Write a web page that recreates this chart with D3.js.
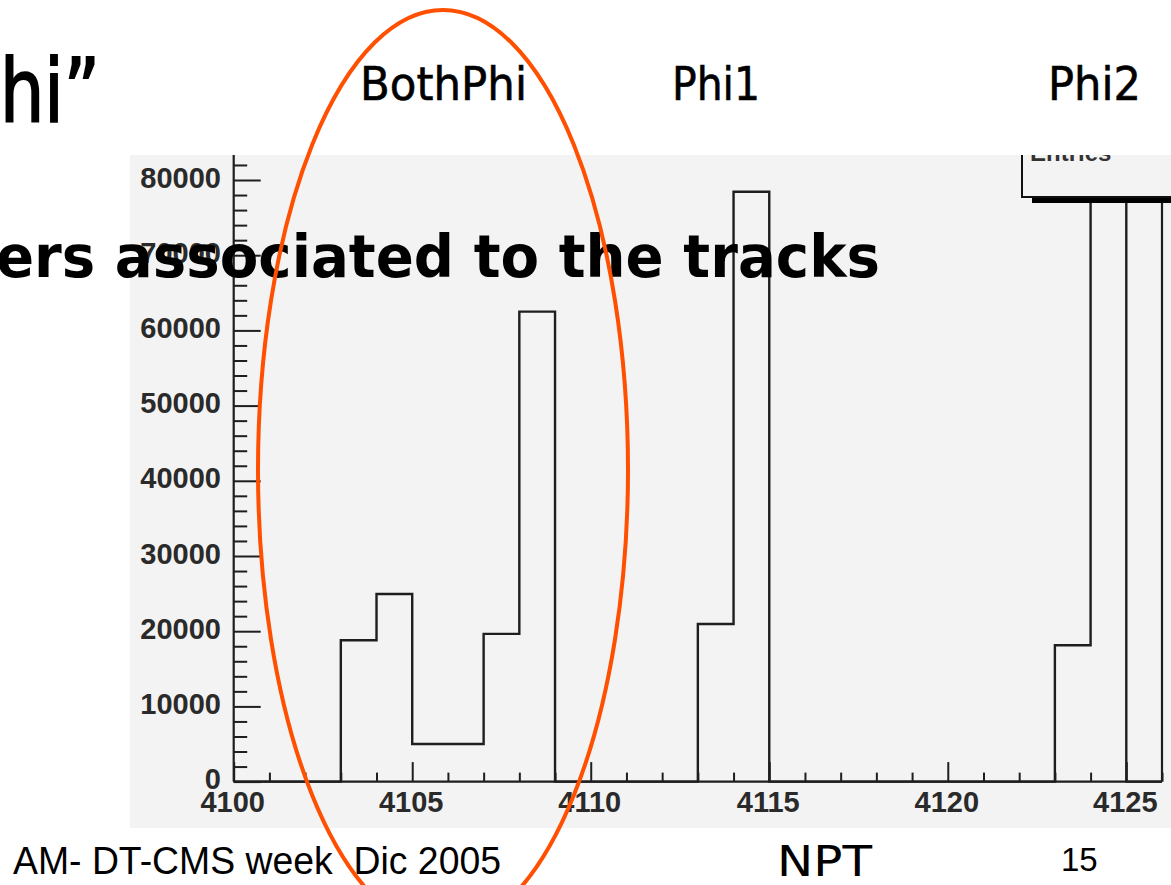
<!DOCTYPE html>
<html>
<head>
<meta charset="utf-8">
<script src="https://cdn.jsdelivr.net/npm/d3@7/dist/d3.min.js"></script>
<style>
  html, body { margin: 0; padding: 0; background: #ffffff; }
  svg { display: block; }
  text { white-space: pre; }
</style>
</head>
<body>
<script>
// ---- data ----
const binLow = 4100, binHigh = 4126;            // histogram range, bin width 1
const filledBins = [4103, 4104, 4105, 4106, 4107, 4108, 4113, 4114, 4123, 4124];
const binCounts  = [18800, 24950, 5000, 5000, 19640, 62500, 20960, 78440, 18130, 150000];
const yMajorTicks = [0, 10000, 20000, 30000, 40000, 50000, 60000, 70000, 80000];
const xMajorTicks = [4100, 4105, 4110, 4115, 4120, 4125];
const groupLabels = ["BothPhi", "Phi1", "Phi2"];

const W = 1171, H = 885;
const svg = d3.select("body").append("svg").attr("width", W).attr("height", H);

// pad background
svg.append("rect").attr("x", 130).attr("y", 155).attr("width", W - 130).attr("height", 828 - 155)
  .attr("fill", "#f3f3f3");

const x = d3.scaleLinear().domain([binLow, binHigh]).range([233.7, 1162]);
const y = d3.scaleLinear().domain([0, 80000]).range([781.6, 180]);

const defs = svg.append("defs");
defs.append("clipPath").attr("id", "plotclip")
  .append("rect").attr("x", 0).attr("y", 155).attr("width", W).attr("height", 700);

// full histogram
const counts = d3.range(binLow, binHigh).map(b => {
  const i = filledBins.indexOf(b);
  return i >= 0 ? binCounts[i] : 0;
});
const pts = [[binLow, 0]];
counts.forEach((c, i) => { pts.push([binLow + i, c]); pts.push([binLow + i + 1, c]); });
pts.push([binHigh, 0]);

const axisColor = "#1e1e1e";
const line = d3.line().x(d => x(d[0])).y(d => y(d[1]));
svg.append("path").attr("d", line(pts)).attr("fill", "none")
  .attr("stroke", axisColor).attr("stroke-width", 2.4)
  .attr("clip-path", "url(#plotclip)");

// frame right edge
svg.append("line").attr("x1", x(binHigh)).attr("x2", x(binHigh)).attr("y1", 155).attr("y2", y(0))
  .attr("stroke", axisColor).attr("stroke-width", 2.2);

// axes
const yAxis = d3.axisRight(y)
  .tickValues(d3.range(0, 82001, 2000))
  .tickSize(0).tickFormat("");
const yg = svg.append("g").attr("transform", `translate(${x(binLow)},0)`).call(yAxis);
yg.select(".domain").remove();
yg.selectAll(".tick line")
  .attr("x2", d => (d % 10000 === 0 ? 27 : 13.5))
  .attr("stroke", axisColor).attr("stroke-width", 2);
svg.append("line").attr("x1", x(binLow)).attr("x2", x(binLow)).attr("y1", 155).attr("y2", y(0))
  .attr("stroke", axisColor).attr("stroke-width", 2.2);

const xAxis = d3.axisTop(x).tickValues(d3.range(binLow, binHigh + 1, 1)).tickSize(0).tickFormat("");
const xg = svg.append("g").attr("transform", `translate(0,${y(0)})`).call(xAxis);
xg.select(".domain").remove();
xg.selectAll(".tick line")
  .attr("y2", d => (d % 5 === 0 ? -19.5 : -9))
  .attr("stroke", axisColor).attr("stroke-width", 2);
svg.append("line").attr("x1", x(binLow)).attr("x2", x(binHigh)).attr("y1", y(0)).attr("y2", y(0))
  .attr("stroke", axisColor).attr("stroke-width", 2.2);

// tick labels
const lblFont = "'Liberation Sans', Arial, sans-serif";
svg.append("g").selectAll("text").data(yMajorTicks).join("text")
  .attr("x", 221).attr("y", d => y(d) + 7.5)
  .attr("text-anchor", "end").attr("font-family", lblFont).attr("font-weight", "bold")
  .attr("font-size", 29).attr("fill", "#2a2a2a").text(d => d);
svg.append("g").selectAll("text").data(xMajorTicks).join("text")
  .attr("x", d => x(d) - 1).attr("y", 812)
  .attr("text-anchor", "middle").attr("font-family", lblFont).attr("font-weight", "bold")
  .attr("font-size", 29).attr("fill", "#2a2a2a").text(d => d);

// stats box (top right, partially visible)
const box = svg.append("g").attr("clip-path", "url(#plotclip)");
box.append("rect").attr("x", 1032).attr("y", 120).attr("width", 200).attr("height", 83).attr("fill", "#000");
box.append("rect").attr("x", 1022).attr("y", 110).attr("width", 200).attr("height", 87)
  .attr("fill", "#f3f3f3").attr("stroke", "#111").attr("stroke-width", 2);
box.append("text").attr("x", 1030).attr("y", 161).attr("font-family", lblFont).attr("font-weight", "bold")
  .attr("font-size", 24).attr("fill", "#333").text("Entries");

// group labels
const handFont = "'DejaVu Sans', sans-serif";
const labelPos = [[360, 167], [672, 88], [1048, 93]];
svg.append("g").selectAll("text").data(groupLabels).join("text")
  .attr("x", (d, i) => labelPos[i][0]).attr("y", 100)
  .attr("textLength", (d, i) => labelPos[i][1]).attr("lengthAdjust", "spacingAndGlyphs")
  .attr("font-family", handFont).attr("font-size", 46).attr("fill", "#000")
  .attr("stroke", "#000").attr("stroke-width", 0.6).text(d => d);

// slide texts
svg.append("text").attr("x", 0).attr("y", 121).attr("textLength", 100).attr("lengthAdjust", "spacingAndGlyphs")
  .attr("font-family", handFont).attr("font-size", 88).attr("fill", "#000")
  .attr("stroke", "#000").attr("stroke-width", 2).text("hi\u201D");
svg.append("text").attr("x", -4).attr("y", 277).attr("textLength", 884).attr("lengthAdjust", "spacingAndGlyphs")
  .attr("font-family", handFont).attr("font-weight", "bold").attr("font-size", 58).attr("fill", "#000")
  .text("ers associated to the tracks");

svg.append("text").attr("x", 13).attr("y", 874).attr("textLength", 488).attr("lengthAdjust", "spacingAndGlyphs")
  .attr("font-family", lblFont).attr("font-size", 39).attr("fill", "#000").text("AM- DT-CMS week  Dic 2005");
svg.append("text").attr("x", 777).attr("y", 876).attr("textLength", 95).attr("lengthAdjust", "spacingAndGlyphs")
  .attr("font-family", handFont).attr("font-size", 42).attr("fill", "#000").text("NPT");
svg.append("text").attr("x", 1061).attr("y", 871)
  .attr("font-family", lblFont).attr("font-size", 33).attr("fill", "#000").text("15");

// highlight ellipse
svg.append("ellipse").attr("cx", 443).attr("cy", 470).attr("rx", 185).attr("ry", 460)
  .attr("fill", "none").attr("stroke", "#ff4f00").attr("stroke-width", 4);
</script>
</body>
</html>
